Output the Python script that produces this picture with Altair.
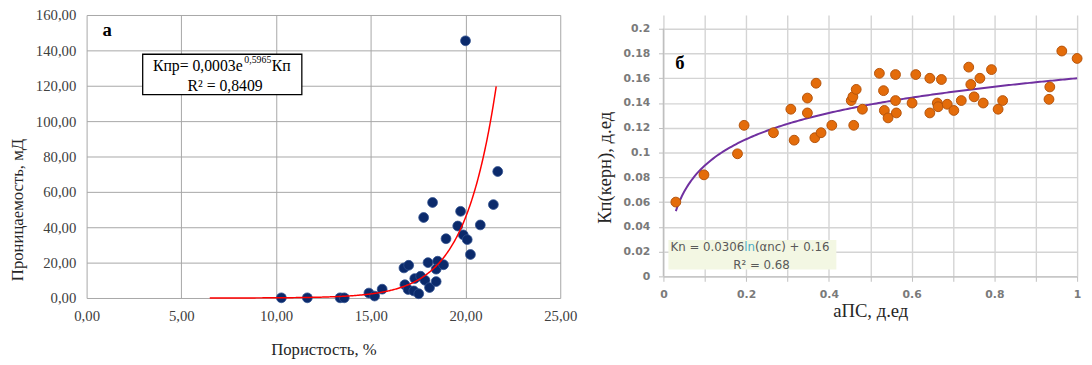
import altair as alt
import pandas as pd

# ---------------- data: panel "а" (porosity vs permeability) ----------------
por = [10.28, 11.65, 13.38, 13.6, 14.9, 15.2, 15.6, 16.75, 17.0, 16.8, 16.97, 17.27,
       17.53, 17.32, 17.63, 17.86, 18.1, 18.45, 18.02, 18.53, 18.45, 18.84, 18.97,
       17.79, 18.26, 19.74, 19.59, 19.88, 20.09, 20.26, 20.78, 21.47, 21.7, 20.0]
perm = [0.1, 0.1, 0.1, 0.1, 2.8, 1.1, 5.0, 17.0, 18.5, 7.5, 4.8, 4.0,
        2.4, 11.0, 12.3, 10.0, 5.9, 9.3, 20.0, 20.8, 16.3, 18.8, 33.5,
        45.5, 54.0, 49.0, 40.7, 35.7, 33.0, 24.6, 41.3, 52.8, 71.5, 145.4]
exp_coef = [0.0003, 0.5965]      # Кпр = a * exp(b * Кп)
exp_range = [6.5, 21.62]

# ---------------- data: panel "б" (aПС vs Kп) ----------------
aps = [0.03, 0.098, 0.179, 0.195, 0.266, 0.308, 0.316, 0.348, 0.348, 0.369, 0.366,
       0.381, 0.407, 0.46, 0.454, 0.458, 0.466, 0.481, 0.522, 0.532, 0.534, 0.543,
       0.561, 0.561, 0.563, 0.601, 0.61, 0.644, 0.672, 0.644, 0.662, 0.664, 0.686,
       0.702, 0.72, 0.738, 0.743, 0.751, 0.765, 0.773, 0.793, 0.82, 0.809, 0.934,
       0.932, 0.963, 1.0]
kp = [0.06, 0.082, 0.099, 0.122, 0.116, 0.135, 0.110, 0.144, 0.132, 0.156, 0.112,
      0.116, 0.122, 0.122, 0.142, 0.145, 0.151, 0.135, 0.164, 0.150, 0.134, 0.128,
      0.163, 0.142, 0.132, 0.140, 0.163, 0.160, 0.159, 0.132, 0.140, 0.137, 0.139,
      0.134, 0.142, 0.169, 0.155, 0.145, 0.160, 0.140, 0.167, 0.142, 0.135, 0.153,
      0.143, 0.182, 0.176]
log_coef = [0.0306, 0.16]        # Кп = a * ln(aПС) + b
log_range = [0.03, 1.0]

left_ticks_x = [0, 5, 10, 15, 20, 25]
left_ticks_y = [0, 20, 40, 60, 80, 100, 120, 140, 160]
right_ticks_x = [0, 0.1, 0.2, 0.3, 0.4, 0.5, 0.6, 0.7, 0.8, 0.9, 1.0]
right_ticks_y = [0, 0.02, 0.04, 0.06, 0.08, 0.1, 0.12, 0.14, 0.16, 0.18, 0.2]

SERIF = "Liberation Serif"
SANS = "DejaVu Sans"
comma_fmt = "replace(format(datum.value, '.2f'), '.', ',')"

# ================= left panel =================
ldf = pd.DataFrame({"por": por, "perm": perm})
lx_scale = alt.Scale(domain=[0, 25], nice=False, zero=False)
ly_scale = alt.Scale(domain=[0, 160], nice=False)

left_points = alt.Chart(ldf).mark_point(
    filled=True, size=100, color="#0b2a6b", opacity=1, stroke="#31508f", strokeWidth=0.8
).encode(
    x=alt.X("por:Q", scale=lx_scale, axis=alt.Axis(
        values=left_ticks_x, tickCount=30, labelExpr=comma_fmt, title="Пористость, %",
        grid=True, gridColor="#a6a6a6", domain=False, ticks=False,
        labelOverlap=False, labelFlush=False,
        labelFont=SERIF, labelFontSize=15, labelColor="#404040", labelPadding=11,
        titleFont=SERIF, titleFontSize=17, titleFontWeight="normal", titleColor="#262626",
        titlePadding=19)),
    y=alt.Y("perm:Q", scale=ly_scale, axis=alt.Axis(
        values=left_ticks_y, tickCount=30, labelExpr=comma_fmt, title="Проницаемость, мД",
        grid=True, gridColor="#a6a6a6", domain=False, ticks=False,
        labelOverlap=False,
        labelFont=SERIF, labelFontSize=15, labelColor="#404040", labelPadding=11,
        titleFont=SERIF, titleFontSize=17, titleFontWeight="normal", titleColor="#262626",
        titlePadding=9, titleY=198)),
)

left_curve = alt.Chart(alt.sequence(exp_range[0], exp_range[1] + 0.001, 0.04, as_="x")).transform_calculate(
    y=f"{exp_coef[0]} * exp({exp_coef[1]} * datum.x)"
).mark_line(color="#ff0000", strokeWidth=1.5).encode(
    x=alt.X("x:Q", scale=lx_scale), y=alt.Y("y:Q", scale=ly_scale)
)

lbox = pd.DataFrame({"x": [2.96], "x2": [11.36], "y": [115.0], "y2": [137.8]})
left_box = alt.Chart(lbox).mark_rect(fill="white", stroke="#000000", strokeWidth=1.3).encode(
    x="x:Q", x2="x2:Q", y="y:Q", y2="y2:Q")

ltxt = pd.DataFrame({
    "x": [3.5, 3.5, 3.5, 7.31, 1.09],
    "y": [131.0, 131.0, 131.0, 120.0, 151.7],
    "t": ["Кпр= 0,0003e", "0,5965", "Кп", "R² = 0,8409", "а"],
})
left_t1 = alt.Chart(ltxt.iloc[[0]]).mark_text(font=SERIF, fontSize=16, align="left", color="#000000").encode(
    x="x:Q", y="y:Q", text="t:N")
left_t2 = alt.Chart(ltxt.iloc[[1]]).mark_text(font=SERIF, fontSize=10, align="left", dx=93, dy=-6, color="#000000").encode(
    x="x:Q", y="y:Q", text="t:N")
left_t3 = alt.Chart(ltxt.iloc[[2]]).mark_text(font=SERIF, fontSize=16, align="left", dx=121, color="#000000").encode(
    x="x:Q", y="y:Q", text="t:N")
left_t4 = alt.Chart(ltxt.iloc[[3]]).mark_text(font=SERIF, fontSize=16, align="center", color="#000000").encode(
    x="x:Q", y="y:Q", text="t:N")
left_t5 = alt.Chart(ltxt.iloc[[4]]).mark_text(font=SERIF, fontSize=19, fontWeight="bold", align="center", color="#000000").encode(
    x="x:Q", y="y:Q", text="t:N")

left = alt.layer(left_points, left_curve, left_box, left_t1, left_t2, left_t3, left_t4, left_t5).properties(
    width=482, height=288)

# ================= right panel =================
rdf = pd.DataFrame({"aps": aps, "kp": kp})
rx_scale = alt.Scale(domain=[0, 1], nice=False, zero=False)
# the plot area reaches 14 px above the 0.2 gridline, as in the reference
ry_scale = alt.Scale(domain=[0, 0.2111], nice=False)

right_points = alt.Chart(rdf).mark_point(
    filled=True, size=100, color="#e46c0a", opacity=1, stroke="#b5540b", strokeWidth=1
).encode(
    x=alt.X("aps:Q", scale=rx_scale, axis=alt.Axis(
        values=right_ticks_x, tickCount=30,
        labelExpr="round(datum.value * 10) % 2 == 0 ? format(datum.value, '~g') : ''",
        title="аПС, д.ед", grid=True, gridColor="#d4d4d4", gridWidth=1.4,
        domain=True, domainColor="#bfbfbf", domainWidth=1.4, ticks=True, tickColor="#bfbfbf", tickSize=5,
        labelOverlap=False, labelFlush=False,
        labelFont=SANS, labelFontSize=11, labelFontWeight="bold", labelColor="#7a7a7a", labelPadding=7,
        titleFont=SERIF, titleFontSize=19, titleFontWeight="normal", titleColor="#262626",
        titlePadding=3)),
    y=alt.Y("kp:Q", scale=ry_scale, axis=alt.Axis(
        values=right_ticks_y, tickCount=30, labelExpr="format(datum.value, '~g')",
        title="Кп(керн), д.ед", grid=True, gridColor="#d4d4d4", gridWidth=1.4,
        domain=False, ticks=True, tickColor="#bfbfbf", tickSize=5,
        labelOverlap=False,
        labelFont=SANS, labelFontSize=11, labelFontWeight="bold", labelColor="#7a7a7a", labelPadding=9,
        titleFont=SERIF, titleFontSize=19, titleFontWeight="normal", titleColor="#262626",
        titlePadding=9, titleY=155)),
)

right_vline = alt.Chart(pd.DataFrame({"x": [0.0], "y": [0.0], "y2": [0.2]})).mark_rule(
    color="#bfbfbf", strokeWidth=1.4).encode(x=alt.X("x:Q", scale=rx_scale), y="y:Q", y2="y2:Q")

right_curve = alt.Chart(alt.sequence(log_range[0], log_range[1] + 0.0001, 0.005, as_="x")).transform_calculate(
    y=f"{log_coef[0]} * log(datum.x) + {log_coef[1]}"
).mark_line(color="#7030a0", strokeWidth=2).encode(
    x=alt.X("x:Q", scale=rx_scale), y=alt.Y("y:Q", scale=ry_scale)
)

rbox = pd.DataFrame({"x": [0.012], "x2": [0.418], "y": [0.0056], "y2": [0.0294]})
right_box = alt.Chart(rbox).mark_rect(fill="#f3f7e3").encode(
    x="x:Q", x2="x2:Q", y="y:Q", y2="y2:Q")

rtxt = pd.DataFrame({
    "x": [0.017, 0.017, 0.017, 0.237, 0.04],
    "y": [0.0238, 0.0238, 0.0238, 0.0095, 0.172],
    "t": ["Kn = 0.0306", "ln", "(αnc) + 0.16", "R² = 0.68", "б"],
})
right_t1 = alt.Chart(rtxt.iloc[[0]]).mark_text(font=SANS, fontSize=12, align="left", color="#595959").encode(
    x="x:Q", y="y:Q", text="t:N")
right_t2 = alt.Chart(rtxt.iloc[[1]]).mark_text(font=SANS, fontSize=12, align="left", dx=75, color="#4bacc6").encode(
    x="x:Q", y="y:Q", text="t:N")
right_t3 = alt.Chart(rtxt.iloc[[2]]).mark_text(font=SANS, fontSize=12, align="left", dx=86, color="#595959").encode(
    x="x:Q", y="y:Q", text="t:N")
right_t4 = alt.Chart(rtxt.iloc[[3]]).mark_text(font=SANS, fontSize=12, align="center", color="#595959").encode(
    x="x:Q", y="y:Q", text="t:N")
right_t5 = alt.Chart(rtxt.iloc[[4]]).mark_text(font=SERIF, fontSize=19, fontWeight="bold", align="center", color="#000000").encode(
    x="x:Q", y="y:Q", text="t:N")

right = alt.layer(right_box, right_vline, right_curve, right_points, right_t1, right_t2, right_t3, right_t4, right_t5).properties(
    width=421, height=266,
)

chart = alt.hconcat(left, right, spacing=18).properties(
    padding={"left": 0, "top": -3, "right": 0, "bottom": 0},
    background="white",
).configure_view(stroke=None)

chart.save("out.html", embed_options={"renderer": "svg", "actions": False})
